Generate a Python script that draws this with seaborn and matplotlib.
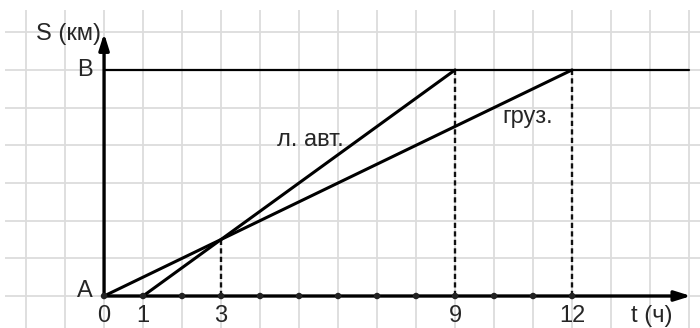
import matplotlib
matplotlib.use("Agg")
import matplotlib.pyplot as plt
import seaborn as sns
import pandas as pd

sns.set_theme(style="white")
plt.rcParams['font.family'] = ['Liberation Sans', 'DejaVu Sans']

# data
car_t = [1, 9]
car_s = [0, 6]
truck_t = [0, 12]
truck_s = [0, 6]
dist_B = 6
meet_t = 3
meet_s = 1.5
tick_vals = [0, 1, 3, 9, 12]
tick_labels = ["0", "1", "3", "9", "12"]
dot_ticks = list(range(0, 13))

fig = plt.figure(figsize=(7.0, 3.28), dpi=100)
ax = fig.add_axes([5/700, 0, 695/700, 318/328])
ax.set_xlim(-2.54, 15.28)
ax.set_ylim(-0.849, 7.59)
for s in ax.spines.values():
    s.set_visible(False)
ax.set_xticks([]); ax.set_yticks([])

grid_c = "#dcdcdc"
for gx in range(-2, 16):
    ax.axvline(gx, color=grid_c, lw=1.3, zorder=0)
for gy in range(0, 8):
    ax.axhline(gy, color=grid_c, lw=1.3, zorder=0)

df = pd.concat([
    pd.DataFrame({"t": car_t, "S": car_s, "v": "car"}),
    pd.DataFrame({"t": truck_t, "S": truck_s, "v": "truck"}),
])
sns.lineplot(data=df, x="t", y="S", units="v", estimator=None, color="black",
             lw=2.2, ax=ax, legend=False, zorder=3)

# B line
ax.plot([0, 15], [dist_B, dist_B], color="black", lw=1.6, zorder=3)
# dashed guides
dash = (0, (2.2, 1.4))
ax.plot([meet_t, meet_t], [0, meet_s], color="#111111", lw=1.7, ls=dash, zorder=2)
for tx in [car_t[1], truck_t[1]]:
    ax.plot([tx, tx], [0, dist_B], color="#111111", lw=1.7, ls=dash, zorder=2)

# axes arrows
ax.annotate("", xy=(15.05, 0), xytext=(0, 0),
            arrowprops=dict(arrowstyle="-|>,head_length=0.8,head_width=0.25", color="black", lw=2.4,
                            shrinkA=0, shrinkB=0), zorder=4)
ax.annotate("", xy=(0, 6.97), xytext=(0, 0),
            arrowprops=dict(arrowstyle="-|>,head_length=0.8,head_width=0.25", color="black", lw=2.4,
                            shrinkA=0, shrinkB=0), zorder=4)
sns.scatterplot(x=dot_ticks, y=[0]*len(dot_ticks), color="#222222", s=22, ax=ax, zorder=5,
                edgecolor="none")

fs = 17
for v, l in zip(tick_vals, tick_labels):
    ax.text(v, -0.54, l, ha="center", va="center", fontsize=fs)
ax.text(14.05, -0.54, "t (ч)", ha="center", va="center", fontsize=fs)
ax.text(-0.08, 6.95, "S (км)", ha="right", va="center", fontsize=fs)
ax.text(-0.3, dist_B, "B", ha="right", va="center", fontsize=fs)
ax.text(-0.3, 0.12, "A", ha="right", va="center", fontsize=fs)
ax.text(5.3, 4.14, "л. авт.", ha="center", va="center", fontsize=fs)
ax.text(10.85, 4.75, "груз.", ha="center", va="center", fontsize=fs)

fig.savefig("out.png", dpi=100)
